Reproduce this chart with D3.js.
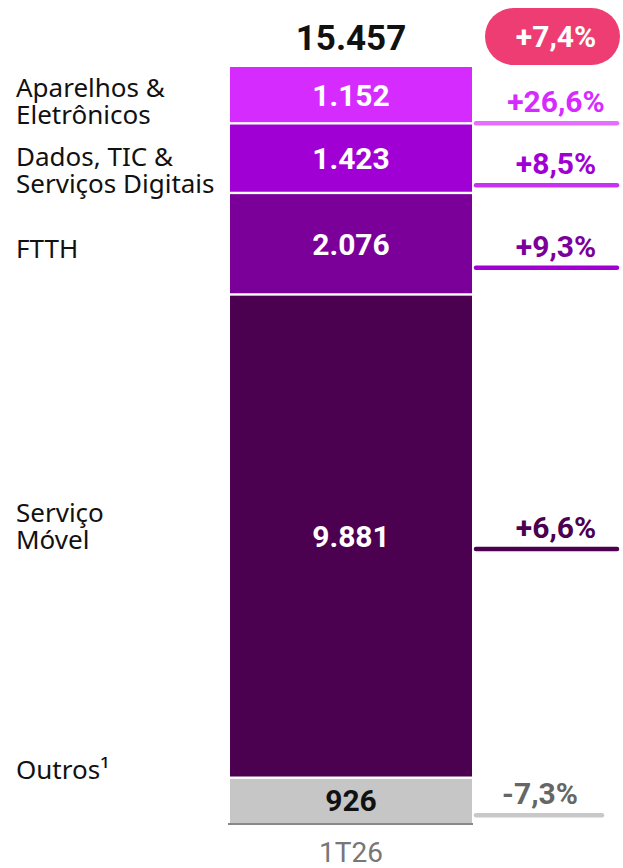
<!DOCTYPE html>
<html>
<head>
<meta charset="utf-8">
<script src="https://cdn.jsdelivr.net/npm/d3@7"></script>
<style>
  body { margin: 0; background: #fff; }
  svg { display: block; font-family: Roboto, "Noto Sans", sans-serif; }
</style>
</head>
<body>
<svg id="chart"></svg>
<script>
// data, bottom to top
var periods = ['1T26'],
  categories = [['Outros¹'], ['Serviço', 'Móvel'], ['FTTH'], ['Dados, TIC &', 'Serviços Digitais'], ['Aparelhos &', 'Eletrônicos']],
  values = [926, 9881, 2076, 1423, 1152],
  valueLabels = ['926', '9.881', '2.076', '1.423', '1.152'],
  growth = ['-7,3%', '+6,6%', '+9,3%', '+8,5%', '+26,6%'],
  totalLabel = '15.457',
  totalGrowth = '+7,4%'

var fills = ['#c6c6c6', '#4b0050', '#7a0099', '#a100d4', '#d52bff'],
  valueColors = ['#111', '#fff', '#fff', '#fff', '#fff'],
  growthColors = ['#666', '#4b0050', '#7a0099', '#a100d4', '#d52bff'],
  lineColors = ['#c8c8c8', '#4b0050', '#a100d4', '#c532f2', '#e36eff'],
  // hand placement, like the original slide
  labelNudge = [-30, -10, 5, 12, 6],
  growthDy = [15, 13, 24, 27, 28]

var w = 623,
  h = 868

var svg = d3.select('#chart').attr('width', w).attr('height', h)

var stack = [],
  acc = 0
values.forEach(function(v, i) {
  stack.push({ i: i, y0: acc, y1: acc + v })
  acc += v
})

var x = d3.scaleBand().domain(periods).range([230, 472]).padding(0)
var y = d3.scaleLinear().domain([0, acc]).range([823, 67])

var bx = x(periods[0]),
  bw = x.bandwidth(),
  cx = bx + bw / 2

svg
  .selectAll('rect.seg')
  .data(stack)
  .enter()
  .append('rect')
  .attr('class', 'seg')
  .attr('x', bx)
  .attr('width', bw)
  .attr('y', function(d) { return y(d.y1) + (d.i == stack.length - 1 ? 0 : 1.2) })
  .attr('height', function(d) {
    var top = y(d.y1) + (d.i == stack.length - 1 ? 0 : 1.2),
      bot = y(d.y0) - (d.i == 0 ? 0 : 1.2)
    return bot - top
  })
  .attr('fill', function(d) { return fills[d.i] })

// values inside the bar
svg
  .selectAll('text.val')
  .data(stack)
  .enter()
  .append('text')
  .attr('class', 'val')
  .attr('x', cx)
  .attr('y', function(d) { return (y(d.y0) + y(d.y1)) / 2 + 11 })
  .attr('text-anchor', 'middle')
  .attr('font-size', 30)
  .attr('font-weight', 700)
  .attr('fill', function(d) { return valueColors[d.i] })
  .text(function(d) { return valueLabels[d.i] })

// axis line + period
svg
  .append('line')
  .attr('x1', bx - 2)
  .attr('x2', bx + bw + 1)
  .attr('y1', y(0) + 1)
  .attr('y2', y(0) + 1)
  .attr('stroke', '#888')
  .attr('stroke-width', 2)

svg
  .append('text')
  .attr('x', cx)
  .attr('y', 862)
  .attr('text-anchor', 'middle')
  .attr('font-size', 28)
  .attr('fill', '#777')
  .text(periods[0])

// category labels on the left
var lh = 27
svg
  .selectAll('text.cat')
  .data(stack)
  .enter()
  .append('text')
  .attr('class', 'cat')
  .attr('x', 16)
  .attr('font-family', '"Noto Sans", sans-serif')
  .attr('font-size', 26)
  .attr('fill', '#111')
  .each(function(d) {
    var lines = categories[d.i],
      mid = (y(d.y0) + y(d.y1)) / 2,
      first = mid - ((lines.length - 1) * lh) / 2 + 9 + labelNudge[d.i]
    d3.select(this)
      .selectAll('tspan')
      .data(lines)
      .enter()
      .append('tspan')
      .attr('x', 16)
      .attr('y', function(l, k) { return first + k * lh })
      .text(function(l) { return l })
  })

// growth on the right, with underline
var gx0 = 474
var g = svg
  .selectAll('g.growth')
  .data(stack)
  .enter()
  .append('g')
  .attr('class', 'growth')
  .attr('transform', function(d) {
    return 'translate(0,' + ((y(d.y0) + y(d.y1)) / 2 + growthDy[d.i]) + ')'
  })

g.append('line')
  .attr('x1', gx0 + 2)
  .attr('x2', function(d) { return d.i == 0 ? 602 : 617 })
  .attr('stroke', function(d) { return lineColors[d.i] })
  .attr('stroke-width', 4.5)
  .attr('stroke-linecap', 'round')

g.append('text')
  .attr('x', function(d) { return d.i == 0 ? 540 : 556 })
  .attr('y', -11)
  .attr('text-anchor', 'middle')
  .attr('font-size', 30)
  .attr('font-weight', 700)
  .attr('fill', function(d) { return growthColors[d.i] })
  .text(function(d) { return growth[d.i] })

// total and total growth pill
svg
  .append('text')
  .attr('x', cx)
  .attr('y', 50)
  .attr('text-anchor', 'middle')
  .attr('font-size', 35)
  .attr('font-weight', 700)
  .attr('fill', '#111')
  .text(totalLabel)

svg
  .append('rect')
  .attr('x', 485)
  .attr('y', 8)
  .attr('width', 135)
  .attr('height', 57)
  .attr('rx', 28.5)
  .attr('fill', '#ee3d72')

svg
  .append('text')
  .attr('x', 556)
  .attr('y', 47)
  .attr('text-anchor', 'middle')
  .attr('font-size', 30)
  .attr('font-weight', 700)
  .attr('fill', '#fff')
  .text(totalGrowth)
</script>
</body>
</html>
